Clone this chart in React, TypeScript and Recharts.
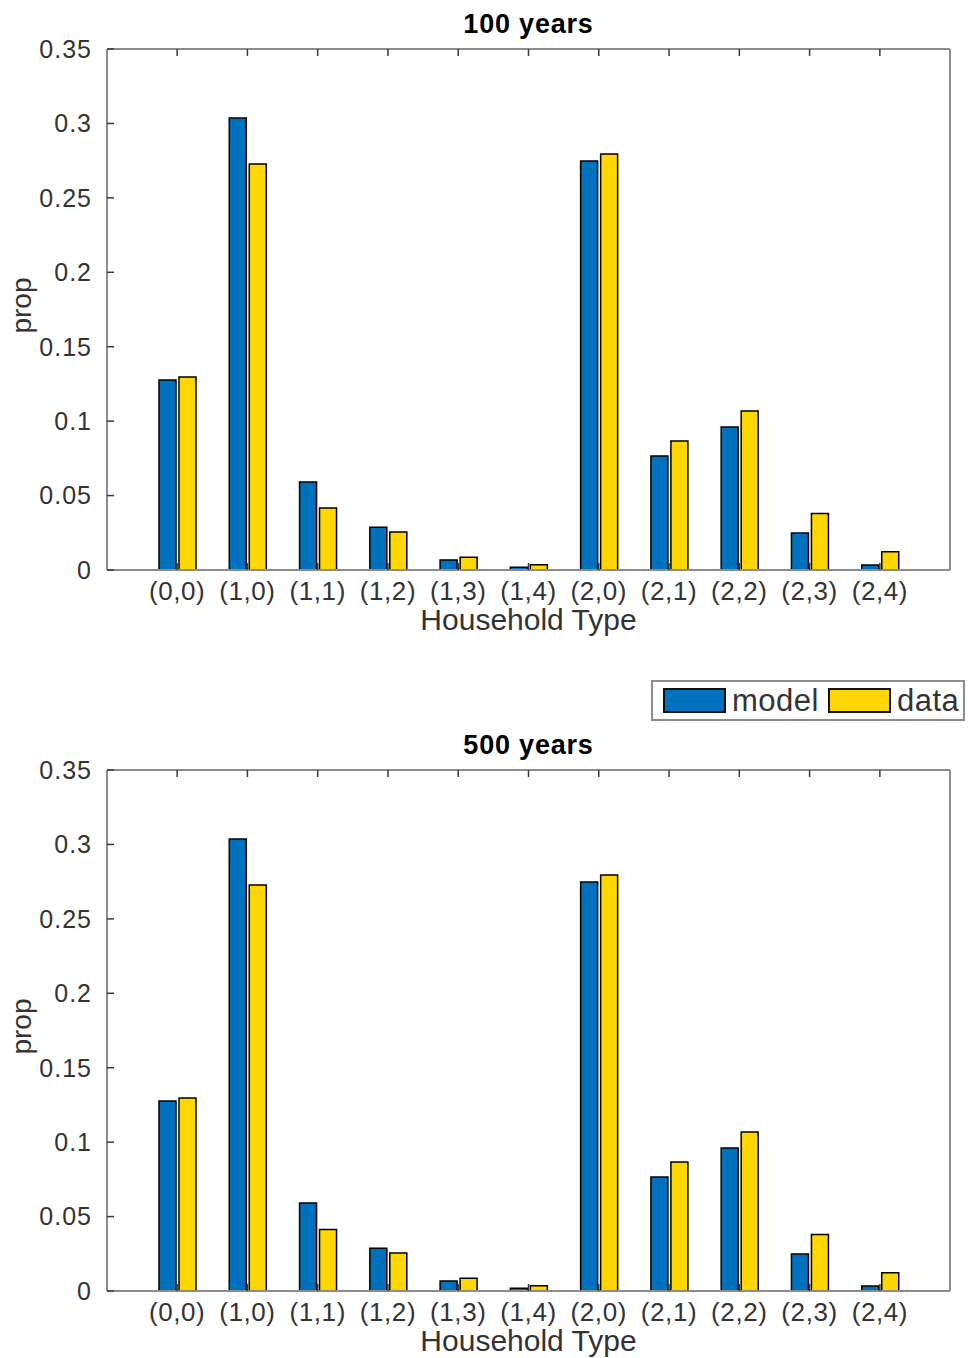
import { BarChart, Bar, XAxis, YAxis, Legend } from "recharts";

const householdTypes = ["(0,0)", "(1,0)", "(1,1)", "(1,2)", "(1,3)", "(1,4)", "(2,0)", "(2,1)", "(2,2)", "(2,3)", "(2,4)"];

// 100-year simulation
const model100 = [0.1276, 0.3036, 0.0591, 0.0287, 0.0067, 0.0018, 0.2748, 0.0766, 0.0961, 0.0248, 0.0034];
const data100 = [0.1297, 0.2727, 0.0417, 0.0255, 0.0085, 0.0036, 0.2795, 0.0867, 0.1068, 0.0379, 0.0123];

// 500-year simulation
const model500 = [0.1276, 0.3036, 0.0591, 0.0288, 0.0067, 0.0018, 0.2748, 0.0766, 0.0961, 0.0248, 0.0034];
const data500 = [0.1297, 0.2727, 0.0413, 0.0255, 0.0086, 0.0036, 0.2795, 0.0867, 0.1068, 0.0379, 0.0123];

const yTicks = [0, 0.05, 0.1, 0.15, 0.2, 0.25, 0.3, 0.35];
const seriesOrder = ["model", "data"];

const BLUE = "#0072BD";
const YELLOW = "#FFD700";
const BOX = "#8c8c8c";
const TICK = "#3a3a3a";
const TEXT = "#333333";

const buildRows = (model: number[], data: number[]) =>
  householdTypes.map((type, i) => ({ type, model: model[i], data: data[i] }));

const NoLabel = () => <g />;

const LegendBox = ({ payload }: { payload?: Array<{ value: string; color: string }> }) => {
  const items = [...(payload ?? [])].sort((a, b) => seriesOrder.indexOf(a.value) - seriesOrder.indexOf(b.value));
  return (
    <div
      style={{
        boxSizing: "border-box",
        width: 314,
        height: 41,
        border: `2px solid ${BOX}`,
        background: "#fff",
        display: "flex",
        alignItems: "center",
        paddingLeft: 10,
      }}
    >
      {items.map((p, i) => (
        <div key={p.value} style={{ display: "flex", alignItems: "center", marginLeft: i === 0 ? 0 : 9 }}>
          <span
            style={{
              boxSizing: "border-box",
              width: 63,
              height: 25,
              background: p.color,
              border: "2px solid #111",
              marginRight: 6,
            }}
          />
          <span style={{ fontSize: 31, color: TEXT, lineHeight: 1, letterSpacing: 0.5 }}>{p.value}</span>
        </div>
      ))}
    </div>
  );
};

interface PanelProps {
  title: string;
  model: number[];
  data: number[];
  height: number;
  marginTop: number;
  marginBottom: number;
  showLegend?: boolean;
}

function HouseholdPanel({ title, model, data, height, marginTop, marginBottom, showLegend }: PanelProps) {
  const rows = buildRows(model, data);
  return (
    <BarChart
      width={968}
      height={height}
      data={rows}
      margin={{ top: marginTop, right: 17, bottom: marginBottom, left: 27 }}
      barSize={17}
      barGap={3}
    >
      <XAxis
        dataKey="type"
        height={30}
        interval={0}
        padding={{ left: 35, right: 35 }}
        tickSize={-7}
        tickMargin={19}
        tick={{ fill: TEXT, fontSize: 26, letterSpacing: 0.6 }}
        axisLine={{ stroke: BOX, strokeWidth: 2 }}
        tickLine={{ stroke: TICK, strokeWidth: 1.5 }}
        label={({ viewBox }: any) => (
          <text
            x={viewBox.x + viewBox.width / 2}
            y={viewBox.y + viewBox.height + 30}
            textAnchor="middle"
            fontSize={30}
            fill={TEXT}
          >
            Household Type
          </text>
        )}
      />
      <XAxis
        xAxisId="top"
        orientation="top"
        dataKey="type"
        height={1}
        interval={0}
        padding={{ left: 35, right: 35 }}
        tickSize={-7}
        tick={NoLabel}
        axisLine={{ stroke: BOX, strokeWidth: 2 }}
        tickLine={{ stroke: TICK, strokeWidth: 1.5 }}
        label={({ viewBox }: any) => (
          <text
            x={viewBox.x + viewBox.width / 2}
            y={viewBox.y - 15}
            textAnchor="middle"
            fontSize={27}
            fontWeight="bold"
            fill="#000"
            letterSpacing={0.8}
          >
            {title}
          </text>
        )}
      />
      <YAxis
        width={80}
        domain={[0, 0.35]}
        ticks={yTicks}
        interval={0}
        tickSize={-7}
        tickMargin={22}
        tick={{ fill: TEXT, fontSize: 25, letterSpacing: 1 }}
        axisLine={{ stroke: BOX, strokeWidth: 2 }}
        tickLine={{ stroke: TICK, strokeWidth: 1.5 }}
        label={({ viewBox }: any) => {
          const cx = viewBox.x + 4;
          const cy = viewBox.y + viewBox.height / 2 - 4;
          return (
            <text x={cx} y={cy} transform={`rotate(-90, ${cx}, ${cy})`} textAnchor="middle" fontSize={28} fill={TEXT}>
              prop
            </text>
          );
        }}
      />
      <YAxis
        yAxisId="right"
        orientation="right"
        width={1}
        domain={[0, 0.35]}
        ticks={yTicks}
        interval={0}
        tickSize={-7}
        tick={NoLabel}
        axisLine={{ stroke: BOX, strokeWidth: 2 }}
        tickLine={{ stroke: TICK, strokeWidth: 1.5 }}
      />
      {showLegend && (
        <Legend
          layout="horizontal"
          verticalAlign="middle"
          align="center"
          content={<LegendBox />}
          wrapperStyle={{ position: "absolute", left: 651, top: 680, width: 314, height: 41 }}
        />
      )}
      <Bar dataKey="model" name="model" fill={BLUE} stroke="#000" strokeWidth={1.5} isAnimationActive={false} />
      <Bar dataKey="data" name="data" fill={YELLOW} stroke="#000" strokeWidth={1.5} isAnimationActive={false} />
    </BarChart>
  );
}

export default function App() {
  return (
    <div
      style={{
        position: "absolute",
        left: 0,
        top: 0,
        width: 968,
        height: 1358,
        background: "#fff",
        fontFamily: "'Liberation Sans', Arial, Helvetica, sans-serif",
      }}
    >
      <HouseholdPanel title="100 years" model={model100} data={data100} height={720} marginTop={48} marginBottom={120} showLegend />
      <HouseholdPanel title="500 years" model={model500} data={data500} height={638} marginTop={49} marginBottom={37} />
    </div>
  );
}
